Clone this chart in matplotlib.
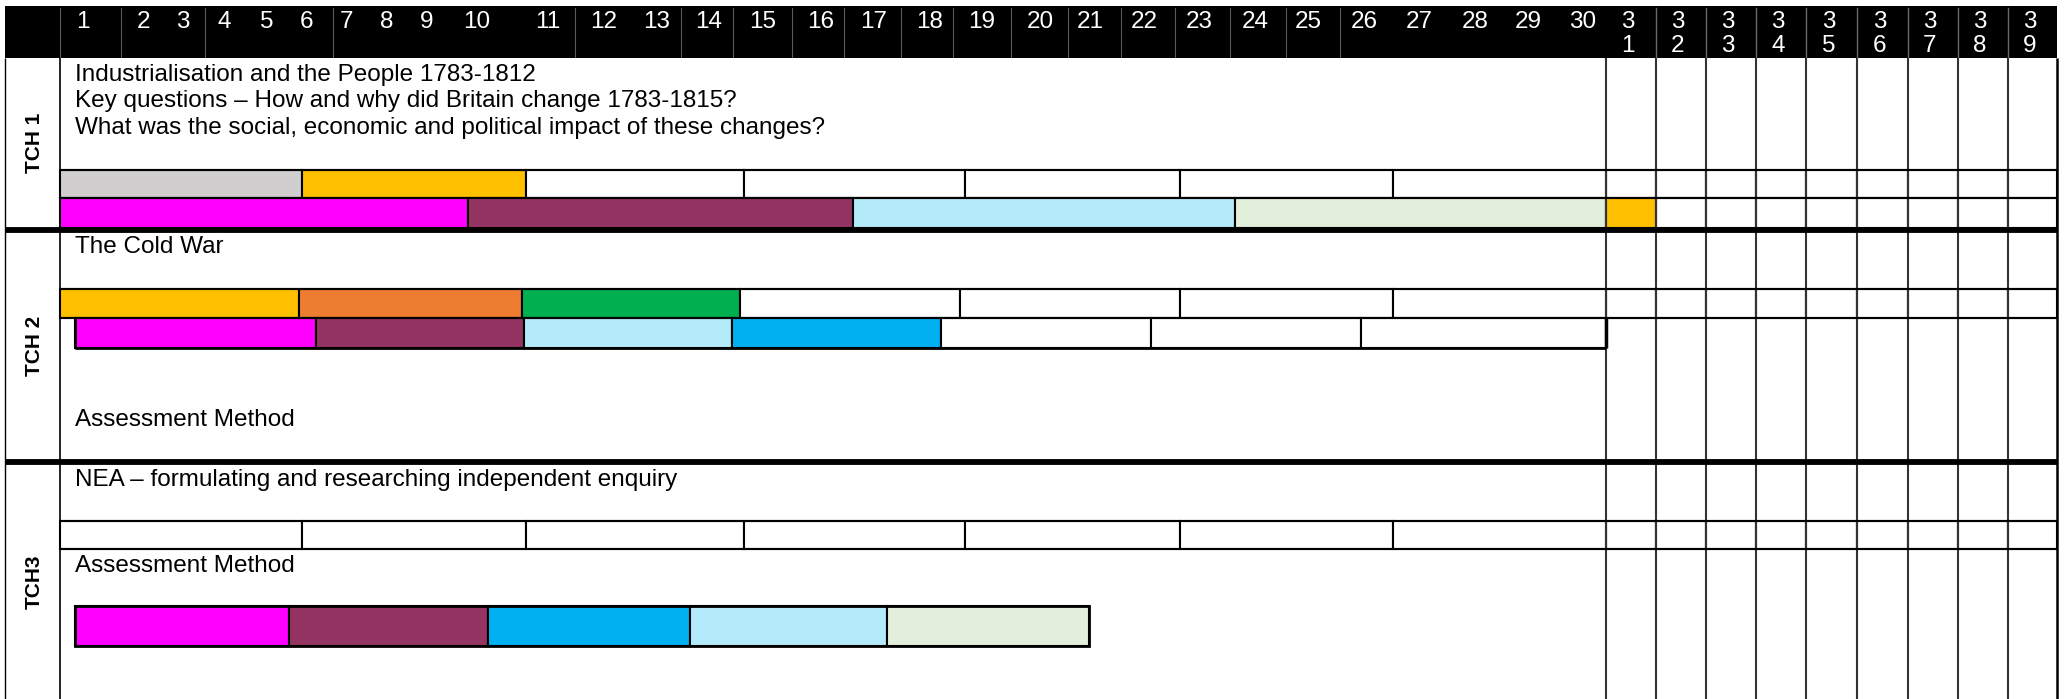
import matplotlib
matplotlib.use("Agg")
import matplotlib.pyplot as plt
from matplotlib.patches import Rectangle

plt.rcParams['font.family'] = ['Liberation Sans', 'DejaVu Sans']

# ---------------- data ----------------
week_labels = ['1', '2', '3', '4', '5', '6', '7', '8', '9', '10',
               '11', '12', '13', '14', '15', '16', '17', '18', '19', '20',
               '21', '22', '23', '24', '25', '26', '27', '28', '29', '30',
               '3\n1', '3\n2', '3\n3', '3\n4', '3\n5', '3\n6', '3\n7', '3\n8', '3\n9']

block_labels = ['TCH 1', 'TCH 2', 'TCH3']

tch1_text = ['Industrialisation and the People 1783-1812',
             'Key questions \u2013 How and why did Britain change 1783-1815?',
             'What was the social, economic and political impact of these changes?']
tch2_title = 'The Cold War'
tch2_assess = 'Assessment Method'
tch3_title = 'NEA \u2013 formulating and researching independent enquiry'
tch3_assess = 'Assessment Method'

GRAY = '#D0CECE'
GOLD = '#FFC000'
MAGENTA = '#FF00FF'
PLUM = '#943462'
LBLUE = '#B4EBFB'
LGREEN = '#E2EFDA'
ORANGE = '#ED7D31'
GREEN = '#00B050'
BLUE = '#00B0F0'
W = 'white'

# segment boundaries along the table's horizontal scale, and their fills
tch1_row1_bounds = [60, 302, 526, 744, 965, 1180, 1393, 1606]
tch1_row1_colors = [GRAY, GOLD, W, W, W, W, W]
tch1_row2_bounds = [60, 468, 853, 1235, 1606, 1656]
tch1_row2_colors = [MAGENTA, PLUM, LBLUE, LGREEN, GOLD]
tch2_row1_bounds = [60, 299, 522, 740, 960, 1180, 1393, 1606]
tch2_row1_colors = [GOLD, ORANGE, GREEN, W, W, W, W]
tch2_row2_bounds = [75, 316, 524, 732, 941, 1151, 1361, 1606]
tch2_row2_colors = [MAGENTA, PLUM, LBLUE, BLUE, W, W, W]
tch3_row1_bounds = [60, 302, 526, 744, 965, 1180, 1393, 1606]
tch3_row1_colors = [W, W, W, W, W, W, W]
tch3_bar_bounds = [75, 289, 488, 690, 887, 1089]
tch3_bar_colors = [MAGENTA, PLUM, BLUE, LBLUE, LGREEN]

# ---------------- layout ----------------
FW, FH = 2065, 699
fig = plt.figure(figsize=(FW / 100, FH / 100), dpi=100)
ax = fig.add_axes([0, 0, 1, 1])
ax.set_xlim(0, FW)
ax.set_ylim(FH, 0)
ax.axis('off')

L, LC, R = 5, 60, 2057
narrow = [1606, 1656, 1706, 1756, 1806, 1857, 1908, 1958, 2008, 2057]
header_x = [76, 137, 176, 217, 260, 300, 340, 380, 420, 463,
            535, 590, 643, 695, 749, 807, 860, 916, 968, 1027,
            1077, 1131, 1186, 1242, 1295, 1351, 1406, 1462, 1515, 1569]
header_seps = [121, 205, 333, 575, 681, 733, 792, 844, 901, 953, 1011,
               1068, 1121, 1175, 1230, 1286, 1340]
HT, HB = 6, 58
CELL_LW = 1.5
THICK = 4.2
FS = 17.5

# header
ax.add_patch(Rectangle((L, HT), R - L, HB - HT, facecolor='black', edgecolor='none', zorder=1))
for xs in header_seps + [LC]:
    ax.plot([xs, xs], [HT + 2, HB - 1], color='#5a5a5a', lw=0.8, zorder=2)
for xs in narrow[1:-1]:
    ax.plot([xs, xs], [HT + 2, HB - 1], color='#6a6a6a', lw=1.0, zorder=2)
for i, lab in enumerate(week_labels):
    if i < 30:
        ax.text(header_x[i], 22, lab, color='white', fontsize=FS, ha='left', va='center', zorder=3)
    else:
        cx = (narrow[i - 30] + narrow[i - 29]) / 2 - 3
        top, bot = lab.split('\n')
        ax.text(cx, 22, top, color='white', fontsize=FS, ha='center', va='center', zorder=3)
        ax.text(cx, 46, bot, color='white', fontsize=FS, ha='center', va='center', zorder=3)


def seg_row(bounds, colors, y0, y1, lw=CELL_LW):
    for a, b, c in zip(bounds[:-1], bounds[1:], colors):
        ax.add_patch(Rectangle((a, y0), b - a, y1 - y0, facecolor=c,
                               edgecolor='black', lw=lw, zorder=4))


def narrow_cells(y0, y1, start=0):
    for a, b in zip(narrow[start:-1], narrow[start + 1:]):
        ax.add_patch(Rectangle((a, y0), b - a, y1 - y0, facecolor='white',
                               edgecolor='black', lw=CELL_LW, zorder=3))


def hline(y, x0=LC, x1=R, lw=CELL_LW):
    ax.plot([x0, x1], [y, y], color='black', lw=lw, zorder=5, solid_capstyle='butt')


def vline(x, y0, y1, lw=CELL_LW, color='black'):
    ax.plot([x, x], [y0, y1], color=color, lw=lw, zorder=5, solid_capstyle='butt')


# outer verticals
vline(L, HB, FH, lw=1.0)
vline(LC, HB, FH, lw=1.2)
vline(R, HB, FH, lw=1.8)
for xs in narrow[:-1]:
    vline(xs, HB, FH, lw=1.5, color='#333333')

# TCH1 block
seg_row(tch1_row1_bounds, tch1_row1_colors, 170, 198)
narrow_cells(170, 198)
seg_row(tch1_row2_bounds, tch1_row2_colors, 198, 228)
narrow_cells(198, 228, start=1)
hline(170)
hline(198)
for k, t in enumerate(tch1_text):
    ax.text(75, 75 + 26.5 * k, t, fontsize=FS, ha='left', va='center', zorder=6)

# separator TCH1 / TCH2
hline(230, L, R, lw=THICK)

# TCH2 block
seg_row(tch2_row1_bounds, tch2_row1_colors, 289, 318)
narrow_cells(289, 318)
seg_row(tch2_row2_bounds, tch2_row2_colors, 318, 348)
hline(289)
hline(318)
vline(1606, 318, 348, lw=2.5)
hline(348, 75, 1606, lw=2.0)
vline(75, 318, 348, lw=2.0)
ax.text(75, 247, tch2_title, fontsize=FS, ha='left', va='center', zorder=6)
ax.text(75, 420, tch2_assess, fontsize=FS, ha='left', va='center', zorder=6)

# separator TCH2 / TCH3
hline(462, L, R, lw=THICK)

# TCH3 block
seg_row(tch3_row1_bounds, tch3_row1_colors, 521, 549)
narrow_cells(521, 549)
hline(521)
hline(549)
seg_row(tch3_bar_bounds, tch3_bar_colors, 606, 646)
ax.add_patch(Rectangle((tch3_bar_bounds[0], 606), tch3_bar_bounds[-1] - tch3_bar_bounds[0], 40,
                       facecolor='none', edgecolor='black', lw=2.0, zorder=6))
ax.text(75, 480, tch3_title, fontsize=FS, ha='left', va='center', zorder=6)
ax.text(75, 566, tch3_assess, fontsize=FS, ha='left', va='center', zorder=6)

# block labels
for lab, yc in zip(block_labels, [143, 346, 582]):
    ax.text(34, yc, lab, fontsize=15, fontweight='bold', rotation=90,
            ha='center', va='center', zorder=6)

fig.savefig('out.png', dpi=100, facecolor='white')
